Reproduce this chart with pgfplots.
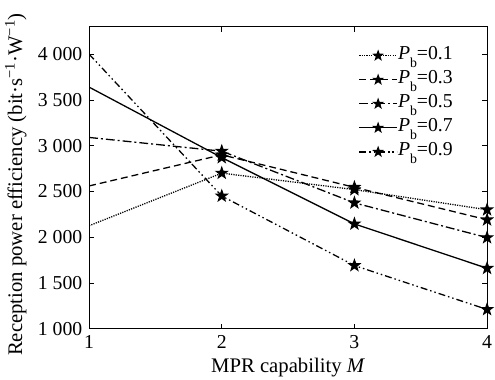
\documentclass[border=0pt]{standalone}
\usepackage{fontspec}
\setmainfont{Liberation Serif}
\usepackage{pgfplots}
\pgfplotsset{compat=1.18}

\pgfdeclareplotmark{fstar}{%
 \pgfpathmoveto{\pgfpointpolar{90}{\pgfplotmarksize}}%
 \pgfpathlineto{\pgfpointpolar{126}{0.40\pgfplotmarksize}}%
 \pgfpathlineto{\pgfpointpolar{162}{\pgfplotmarksize}}%
 \pgfpathlineto{\pgfpointpolar{198}{0.40\pgfplotmarksize}}%
 \pgfpathlineto{\pgfpointpolar{234}{\pgfplotmarksize}}%
 \pgfpathlineto{\pgfpointpolar{270}{0.40\pgfplotmarksize}}%
 \pgfpathlineto{\pgfpointpolar{306}{\pgfplotmarksize}}%
 \pgfpathlineto{\pgfpointpolar{342}{0.40\pgfplotmarksize}}%
 \pgfpathlineto{\pgfpointpolar{18}{\pgfplotmarksize}}%
 \pgfpathlineto{\pgfpointpolar{54}{0.40\pgfplotmarksize}}%
 \pgfpathclose
 \pgfusepathqfillstroke}

\tikzset{
 l01/.style={dash pattern=on 1.2bp off 1.2bp},
 l03/.style={dash pattern=on 7bp off 4bp},
 l05/.style={dash pattern=on 9bp off 3bp on 2bp off 3bp},
 l07/.style={solid},
 l09/.style={dash pattern=on 7bp off 3bp on 1.5bp off 3bp on 1.5bp off 3bp},
}
\newcommand{\Pb}[1]{\textit{P}\raisebox{-0.4em}{\fontsize{14}{14}\selectfont b}=#1}

\begin{document}
\fontsize{20}{24}\selectfont
\begin{tikzpicture}
\begin{axis}[
 name=ax,
 scale only axis, width=402bp, height=305bp,
 xmin=1, xmax=4, ymin=1000, ymax=4300,
 xtick={1,2,3,4}, ytick={1000,1500,2000,2500,3000,3500,4000},
 tick align=inside,
 major tick length=5bp,
 axis line style={line width=0.9bp},
 tick style={line width=0.8bp, black},
 /pgf/number format/assume math mode=true,
 /pgf/number format/1000 sep={\ },
 tick label style={font=\fontsize{20}{24}\selectfont},
 label style={font=\fontsize{21}{25}\selectfont},
 xlabel={MPR capability \textit{M}},
 xlabel style={yshift=4bp},
 ylabel={Reception power efficiency (bit·s\textsuperscript{−1}·W\textsuperscript{−1})},
 ylabel style={at={(ticklabel cs:0.477)}, yshift=-2bp},
 every axis plot/.append style={line width=1.3bp, black},
 mark size=5.5bp,
 legend style={at={(axis description cs:0.677,0.944)}, anchor=north west,
   draw=none, fill=none, font=\fontsize{20}{24}\selectfont,
   row sep=0.3bp, inner sep=0pt, nodes={inner sep=0.5bp, text height=15bp, text depth=8bp}},
 legend cell align=left,
 legend image code/.code={\draw[mark repeat=2,mark phase=2,#1] plot coordinates {(0bp,0bp)(19bp,0bp)(38bp,0bp)};},
]
\addlegendimage{l01, black, line width=1.2bp, mark=fstar, mark size=4.5bp, mark options={solid}}
\addlegendentry{\Pb{0.1}}
\addlegendimage{l03, black, line width=1.2bp, mark=fstar, mark size=4.5bp, mark options={solid}}
\addlegendentry{\Pb{0.3}}
\addlegendimage{l05, black, line width=1.2bp, mark=fstar, mark size=4.5bp, mark options={solid}}
\addlegendentry{\Pb{0.5}}
\addlegendimage{l07, black, line width=1.2bp, mark=fstar, mark size=4.5bp, mark options={solid}}
\addlegendentry{\Pb{0.7}}
\addlegendimage{l09, black, line width=1.2bp, mark=fstar, mark size=4.5bp, mark options={solid}}
\addlegendentry{\Pb{0.9}}

\addplot[l01, forget plot, mark=fstar, mark indices={2,3,4}, mark options={solid}] coordinates {(1,2125)(2,2700)(3,2520)(4,2300)};
\addplot[l03, forget plot, mark=fstar, mark indices={2,3,4}, mark options={solid}] coordinates {(1,2560)(2,2900)(3,2545)(4,2190)};
\addplot[l05, forget plot, mark=fstar, mark indices={2,3,4}, mark options={solid}] coordinates {(1,3090)(2,2940)(3,2375)(4,1995)};
\addplot[l07, forget plot, mark=fstar, mark indices={2,3,4}, mark options={solid}] coordinates {(1,3640)(2,2870)(3,2145)(4,1660)};
\addplot[l09, forget plot, mark=fstar, mark indices={2,3,4}, mark options={solid}] coordinates {(1,4000)(2,2450)(3,1690)(4,1210)};
\end{axis}
\pgfresetboundingbox
\path ([xshift=-90bp,yshift=-51bp]ax.south west) rectangle ([xshift=8bp,yshift=27bp]ax.north east);
\end{tikzpicture}
\end{document}
